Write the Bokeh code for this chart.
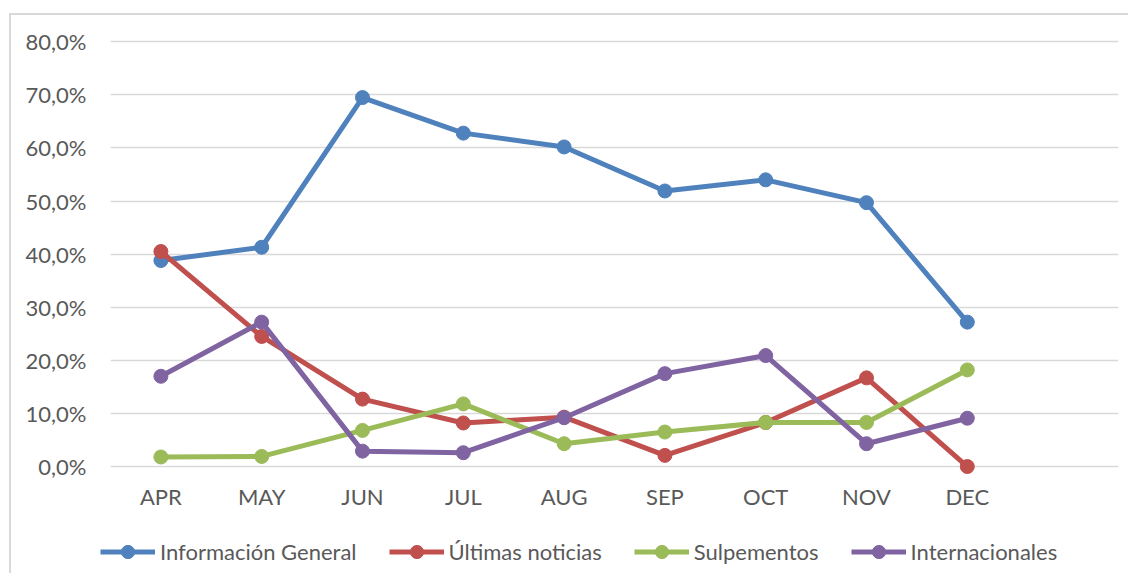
from bokeh.plotting import figure
from bokeh.layouts import column
from bokeh.models import FactorRange, Range1d, FixedTicker, Legend, LegendItem, ColumnDataSource
from bokeh.embed import file_html
from bokeh.resources import INLINE

months = ["APR", "MAY", "JUN", "JUL", "AUG", "SEP", "OCT", "NOV", "DEC"]
x_factors = months + [" "]

series_names = ["Información General", "Últimas noticias", "Sulpementos", "Internacionales"]
informacion_general = [38.8, 41.3, 69.5, 62.8, 60.2, 51.9, 54.0, 49.7, 27.2]
ultimas_noticias = [40.5, 24.5, 12.7, 8.2, 9.3, 2.1, 8.3, 16.7, 0.0]
sulpementos = [1.8, 1.9, 6.8, 11.8, 4.3, 6.5, 8.3, 8.3, 18.2]
internacionales = [17.0, 27.2, 2.9, 2.6, 9.2, 17.5, 20.9, 4.3, 9.1]

y_ticks = [0, 10, 20, 30, 40, 50, 60, 70, 80]
y_tick_labels = ["0,0%", "10,0%", "20,0%", "30,0%", "40,0%", "50,0%", "60,0%", "70,0%", "80,0%"]

colors = ["#4F81BD", "#C0504D", "#9BBB59", "#8064A2"]
FONT = "Lato"
TXT = "#595959"
all_series = [informacion_general, ultimas_noticias, sulpementos, internacionales]

# ---- main chart ----
p = figure(x_range=FactorRange(*x_factors), y_range=Range1d(-1.5, 81),
           frame_width=1008, frame_height=438,
           min_border_left=99, min_border_right=10, min_border_top=21, min_border_bottom=40,
           output_backend="svg", toolbar_location=None, tools="")
p.outline_line_color = None
p.background_fill_color = "white"
p.border_fill_color = "white"

p.xgrid.grid_line_color = None
p.ygrid.grid_line_color = "#D9D9D9"
p.ygrid.grid_line_width = 1.3

p.yaxis.ticker = FixedTicker(ticks=y_ticks)
p.yaxis.major_label_overrides = {t: l for t, l in zip(y_ticks, y_tick_labels)}
for ax in (p.xaxis[0], p.yaxis[0]):
    ax.axis_line_color = None
    ax.major_tick_line_color = None
    ax.minor_tick_line_color = None
    ax.major_tick_out = 0
    ax.major_tick_in = 0
    ax.major_label_text_font = FONT
    ax.major_label_text_font_size = "22px"
    ax.major_label_text_color = TXT
p.yaxis.major_label_standoff = 24
p.xaxis.major_label_standoff = 8

for vals, c in zip(all_series, colors):
    src = ColumnDataSource(dict(x=months, y=vals))
    p.line("x", "y", source=src, line_color=c, line_width=5)
    p.scatter("x", "y", source=src, size=14, fill_color=c, line_color=c)

# ---- legend strip (same series, data kept out of view) ----
pl = figure(x_range=FactorRange(*x_factors), y_range=Range1d(1000, 1001),
            frame_width=1117, frame_height=59,
            min_border_left=0, min_border_right=0, min_border_top=0, min_border_bottom=0,
            x_axis_location=None, y_axis_location=None,
            output_backend="svg", toolbar_location=None, tools="")
pl.outline_line_color = None
pl.grid.grid_line_color = None
pl.background_fill_color = "white"
pl.border_fill_color = "white"

items = []
for name, vals, c in zip(series_names, all_series, colors):
    src = ColumnDataSource(dict(x=months, y=vals))
    r1 = pl.line("x", "y", source=src, line_color=c, line_width=5)
    r2 = pl.scatter("x", "y", source=src, size=14, fill_color=c, line_color=c)
    items.append(LegendItem(label=name, renderers=[r1, r2]))

legend = Legend(items=items, orientation="horizontal", location=(89, 5),
                glyph_width=55, glyph_height=33, label_standoff=5, spacing=32,
                padding=0, margin=0, border_line_color=None, background_fill_alpha=0,
                label_text_font=FONT, label_text_font_size="22px", label_text_color=TXT,
                label_text_baseline="middle")
pl.add_layout(legend, "center")

layout = column(p, pl, spacing=0, margin=(13, 0, 0, 9),
                styles={"border-left": "2px solid #D9D9D9", "border-top": "2px solid #D9D9D9"})

open("out.html", "w").write(file_html(layout, INLINE))
